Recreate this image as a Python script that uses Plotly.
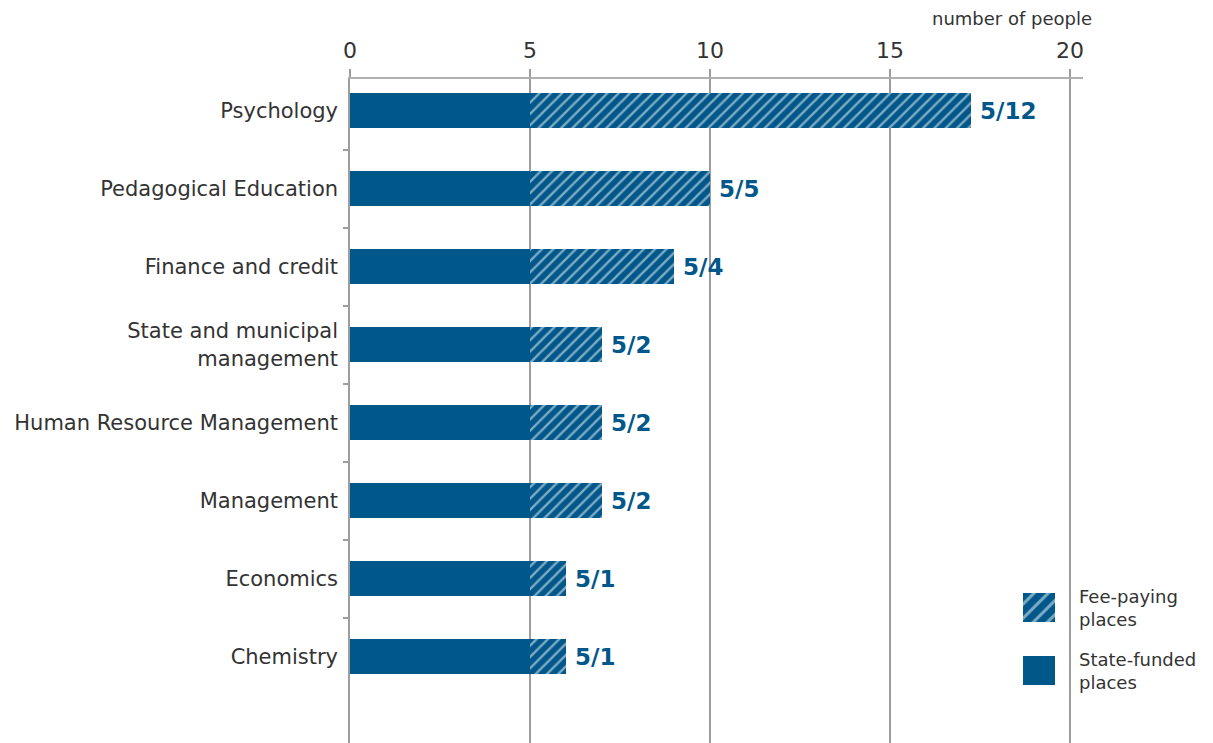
import plotly.graph_objects as go

categories = ["Psychology", "Pedagogical Education", "Finance and credit",
              "State and municipal<br>management", "Human Resource Management",
              "Management", "Economics", "Chemistry"]
state_funded = [5, 5, 5, 5, 5, 5, 5, 5]
fee_paying = [12.25, 5, 4, 2, 2, 2, 1, 1]
bar_labels = ["5/12", "5/5", "5/4", "5/2", "5/2", "5/2", "5/1", "5/1"]
x_ticks = [0, 5, 10, 15, 20]
legend_names = ["Fee-paying<br>places", "State-funded<br>places"]

BLUE = "#00578A"
GRID = "#9d9d9d"
TXT = "#333333"
FONT = "DejaVu Sans"

fig = go.Figure()
fig.add_trace(go.Bar(
    y=categories, x=state_funded, orientation="h", width=0.44,
    marker=dict(color=BLUE, line=dict(width=0)), name="State-funded places",
    showlegend=False, hoverinfo="skip"))
fig.add_trace(go.Bar(
    y=categories, x=fee_paying, orientation="h", width=0.44,
    marker=dict(color=BLUE, line=dict(width=0),
                pattern=dict(shape="/", fillmode="overlay", fgcolor="white",
                             size=8, solidity=0.3)),
    name="Fee-paying places", showlegend=False, hoverinfo="skip"))

# value labels
for cat, s, f, lab in zip(categories, state_funded, fee_paying, bar_labels):
    fig.add_annotation(x=s + f, y=cat, xref="x", yref="y", text=f"<b>{lab}</b>",
                       showarrow=False, xanchor="left", xshift=7,
                       font=dict(family="DejaVu Sans", size=23, color=BLUE))

# legend swatches drawn as bars on a small overlay axis
fig.add_trace(go.Bar(
    y=legend_names, x=[1, 1], orientation="h", width=0.46,
    marker=dict(color=[BLUE, BLUE], line=dict(width=0),
                pattern=dict(shape=["/", ""], fillmode="overlay", fgcolor="white",
                             size=10, solidity=0.3)),
    xaxis="x2", yaxis="y2", showlegend=False, hoverinfo="skip"))
for i, name in enumerate(legend_names):
    fig.add_annotation(x=1, y=name, xref="x2", yref="y2", text=name, showarrow=False,
                       xanchor="left", align="left", xshift=22,
                       font=dict(family=FONT, size=18, color=TXT))

fig.add_annotation(x=1.015, y=1.0, xref="paper", yref="paper", yshift=48,
                   text="number of people", showarrow=False, xanchor="right",
                   yanchor="bottom", font=dict(family=FONT, size=18, color=TXT))

fig.update_layout(
    width=1213, height=743, barmode="stack",
    margin=dict(l=350, r=130, t=79, b=0),
    paper_bgcolor="white", plot_bgcolor="white",
    font=dict(family=FONT, color=TXT),
    xaxis=dict(side="top", range=[0, 20.36], tickvals=x_ticks, showgrid=True,
               gridcolor=GRID, gridwidth=1.5, zeroline=False, showline=True,
               linecolor="#b0b0b0", linewidth=1.5, ticks="outside", ticklen=8,
               tickcolor=GRID, tickwidth=1.5, automargin=False,
               ticklabelstandoff=2, tickfont=dict(size=22, color=TXT)),
    yaxis=dict(type="category", categoryorder="array", categoryarray=categories,
               range=[8.109, -0.404], showline=True, linecolor=GRID, linewidth=1.5,
               ticks="outside", tickson="boundaries", ticklen=5, tickcolor=GRID,
               tickwidth=1.5, showgrid=False, zeroline=False, automargin=False,
               ticklabelstandoff=6, tickfont=dict(size=21, color=TXT)),
    xaxis2=dict(domain=[0.918, 0.962], range=[0, 1], anchor="y2", visible=False),
    yaxis2=dict(domain=[0.0617, 0.2515], range=[1.5, -0.5], anchor="x2",
                type="category", visible=False),
)

fig.write_html("out.html", config={"displayModeBar": False},
               post_script="document.body.style.margin='0';document.body.style.overflow='hidden';")
